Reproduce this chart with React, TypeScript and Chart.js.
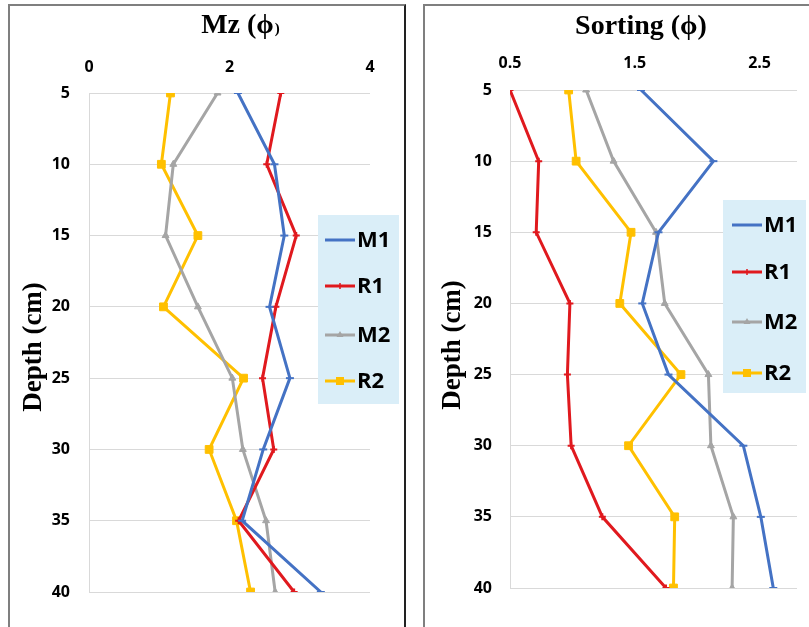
import React, { useEffect, useRef } from 'react';
import { Chart, registerables } from 'chart.js';

Chart.register(...registerables);

// ---------- data ----------
const depths = [5, 10, 15, 20, 25, 30, 35, 40];
const seriesNames = ['M1', 'R1', 'M2', 'R2'];

const mzM1 = [2.12, 2.64, 2.78, 2.57, 2.86, 2.48, 2.18, 3.3];
const mzR1 = [2.73, 2.53, 2.95, 2.66, 2.47, 2.63, 2.13, 2.92];
const mzM2 = [1.83, 1.2, 1.09, 1.55, 2.04, 2.19, 2.52, 2.65];
const mzR2 = [1.16, 1.03, 1.55, 1.06, 2.2, 1.71, 2.1, 2.3];

const sortM1 = [1.55, 2.13, 1.69, 1.56, 1.77, 2.37, 2.51, 2.61];
const sortR1 = [0.5, 0.73, 0.71, 0.98, 0.96, 0.99, 1.24, 1.75];
const sortM2 = [1.11, 1.33, 1.67, 1.74, 2.09, 2.11, 2.29, 2.28];
const sortR2 = [0.97, 1.03, 1.47, 1.38, 1.87, 1.45, 1.82, 1.81];

const mzTicks = [0, 2, 4];
const sortTicks = [0.5, 1.5, 2.5];
const depthTicks = [5, 10, 15, 20, 25, 30, 35, 40];

const colors = ['#4472C4', '#E0191E', '#A5A5A5', '#FFC000'];
const pointStyles = ['line', 'cross', 'triangle', 'rect'];
const pointRadii = [4, 3.5, 4, 5.5];

const SANS = '"Open Sans", "Liberation Sans", sans-serif';
const TICK_FONT = { family: SANS, weight: 'bold' as const, size: 16 };

// ---------- decor plugin (titles + legend box) ----------
const decorPlugin = {
  id: 'decor',
  afterDraw(chart: any, _args: any, opts: any) {
    const ctx = chart.ctx as CanvasRenderingContext2D;
    ctx.save();
    // title
    ctx.fillStyle = '#000';
    ctx.textBaseline = 'alphabetic';
    ctx.font = 'bold 28px "Liberation Serif", "Times New Roman", serif';
    const w1 = ctx.measureText(opts.title).width;
    let w2 = 0;
    if (opts.titleSmall) {
      ctx.font = 'bold 15px "Liberation Serif", "Times New Roman", serif';
      w2 = ctx.measureText(opts.titleSmall).width;
    }
    const start = opts.titleX - (w1 + w2) / 2;
    ctx.textAlign = 'left';
    ctx.font = 'bold 28px "Liberation Serif", "Times New Roman", serif';
    ctx.fillText(opts.title, start, opts.titleY);
    if (opts.titleSmall) {
      ctx.font = 'bold 15px "Liberation Serif", "Times New Roman", serif';
      ctx.fillText(opts.titleSmall, start + w1 + 1, opts.titleY);
    }
    // y title
    ctx.save();
    ctx.translate(opts.yTitleX, opts.yTitleY);
    ctx.rotate(-Math.PI / 2);
    ctx.textAlign = 'center';
    ctx.textBaseline = 'middle';
    ctx.font = 'bold 27px "Liberation Serif", "Times New Roman", serif';
    ctx.fillText(opts.yTitle, 0, 0);
    ctx.restore();

    // legend
    const lg = opts.legend;
    ctx.fillStyle = '#DAEEF8';
    ctx.fillRect(lg.x, lg.y, lg.w, lg.h);
    chart.data.datasets.forEach((ds: any, i: number) => {
      const y = lg.rows[i];
      const c = ds.borderColor;
      ctx.strokeStyle = c;
      ctx.fillStyle = c;
      ctx.lineWidth = 3;
      ctx.beginPath();
      ctx.moveTo(lg.lineX0, y);
      ctx.lineTo(lg.lineX1, y);
      ctx.stroke();
      const mx = (lg.lineX0 + lg.lineX1) / 2;
      const st = ds.pointStyle;
      ctx.lineWidth = 1.5;
      if (st === 'cross') {
        ctx.beginPath();
        ctx.moveTo(mx - 3, y);
        ctx.lineTo(mx + 3, y);
        ctx.moveTo(mx, y - 3);
        ctx.lineTo(mx, y + 3);
        ctx.stroke();
      } else if (st === 'triangle') {
        ctx.beginPath();
        ctx.moveTo(mx, y - 4);
        ctx.lineTo(mx + 3.5, y + 2);
        ctx.lineTo(mx - 3.5, y + 2);
        ctx.closePath();
        ctx.fill();
      } else if (st === 'rect') {
        ctx.fillRect(mx - 4, y - 4, 8, 8);
      }
      ctx.fillStyle = '#000';
      ctx.font = 'bold 22px ' + SANS;
      ctx.textAlign = 'left';
      ctx.textBaseline = 'middle';
      ctx.fillText(ds.label, lg.textX, y + 1);
    });
    ctx.restore();
  },
};

function buildConfig(values: number[][], xMin: number, xMax: number, xTicks: number[], geo: any, decor: any) {
  return {
    type: 'line' as const,
    data: {
      datasets: seriesNames.map((name, i) => ({
        label: name,
        data: depths.map((d, j) => ({ x: values[i][j], y: d })),
        borderColor: colors[i],
        backgroundColor: colors[i],
        borderWidth: 3,
        pointStyle: pointStyles[i],
        pointRadius: pointRadii[i],
        pointBorderWidth: i === 0 || i === 1 ? 2 : 1,
        tension: 0,
        fill: false,
      })),
    },
    options: {
      animation: false as const,
      responsive: false,
      indexAxis: 'y' as const,
      layout: { padding: { left: 0, top: 0, right: geo.padRight, bottom: geo.padBottom } },
      plugins: {
        legend: { display: false },
        tooltip: { enabled: false },
        decor,
      },
      scales: {
        x: {
          type: 'linear' as const,
          position: 'top' as const,
          min: xMin,
          max: xMax,
          afterBuildTicks: (ax: any) => {
            ax.ticks = xTicks.map((v) => ({ value: v }));
          },
          afterFit: (ax: any) => {
            ax.height = geo.xHeight;
          },
          grid: { display: false, drawTicks: false },
          border: { display: false },
          ticks: { padding: geo.xPad, color: '#000', font: TICK_FONT, maxRotation: 0 },
        },
        y: {
          type: 'linear' as const,
          reverse: true,
          min: 5,
          max: 40,
          afterBuildTicks: (ax: any) => {
            ax.ticks = depthTicks.map((v) => ({ value: v }));
          },
          afterFit: (ax: any) => {
            ax.width = geo.yWidth;
          },
          grid: { color: '#D9D9D9', lineWidth: 1, drawTicks: false },
          border: { display: true, color: '#D9D9D9', width: 1 },
          ticks: { padding: geo.yPad, color: '#000', font: TICK_FONT },
        },
      },
    },
    plugins: [decorPlugin],
  };
}

function Panel(props: {
  left: number;
  width: number;
  canvasW: number;
  values: number[][];
  xMin: number;
  xMax: number;
  xTicks: number[];
  geo: any;
  decor: any;
  rightBorder: string;
}) {
  const ref = useRef<HTMLCanvasElement>(null);
  useEffect(() => {
    if (!ref.current) return;
    const chart = new Chart(
      ref.current,
      buildConfig(props.values, props.xMin, props.xMax, props.xTicks, props.geo, props.decor) as any
    );
    return () => chart.destroy();
  }, []);
  return (
    <div
      style={{
        position: 'absolute',
        left: props.left,
        top: 4,
        width: props.width,
        height: 700,
        boxSizing: 'border-box',
        borderTop: '2px solid #7F7F7F',
        borderLeft: '2px solid #7F7F7F',
        borderRight: props.rightBorder,
        background: '#fff',
      }}
    >
      <canvas
        ref={ref}
        width={props.canvasW}
        height={621}
        style={{ position: 'absolute', left: 0, top: 0, width: props.canvasW, height: 621 }}
      />
    </div>
  );
}

export default function App() {
  return (
    <div
      style={{
        position: 'fixed',
        left: 0,
        top: 0,
        width: 809,
        height: 627,
        overflow: 'hidden',
        background: '#fff',
      }}
    >
      <Panel
        left={8}
        width={398}
        canvasW={394}
        values={[mzM1, mzR1, mzM2, mzR2]}
        xMin={0}
        xMax={4}
        xTicks={mzTicks}
        rightBorder="2px solid #222"
        geo={{ padRight: 34, padBottom: 35, xHeight: 87, yWidth: 79, xPad: 16, yPad: 19 }}
        decor={{
          title: 'Mz (ϕ',
          titleSmall: ')',
          titleX: 230,
          titleY: 27,
          yTitle: 'Depth (cm)',
          yTitleX: 24,
          yTitleY: 341,
          legend: { x: 308, y: 209, w: 81, h: 189, lineX0: 315, lineX1: 345, textX: 347, rows: [234, 280, 329, 375] },
        }}
      />
      <Panel
        left={423}
        width={400}
        canvasW={384}
        values={[sortM1, sortR1, sortM2, sortR2]}
        xMin={0.5}
        xMax={2.8}
        xTicks={sortTicks}
        rightBorder="2px solid #7F7F7F"
        geo={{ padRight: 12, padBottom: 39, xHeight: 84, yWidth: 85, xPad: 17, yPad: 18 }}
        decor={{
          title: 'Sorting (ϕ)',
          titleSmall: '',
          titleX: 216,
          titleY: 28,
          yTitle: 'Depth (cm)',
          yTitleX: 28,
          yTitleY: 339,
          legend: { x: 298, y: 194, w: 83, h: 193, lineX0: 307, lineX1: 337, textX: 339, rows: [219, 266, 316, 367] },
        }}
      />
    </div>
  );
}
